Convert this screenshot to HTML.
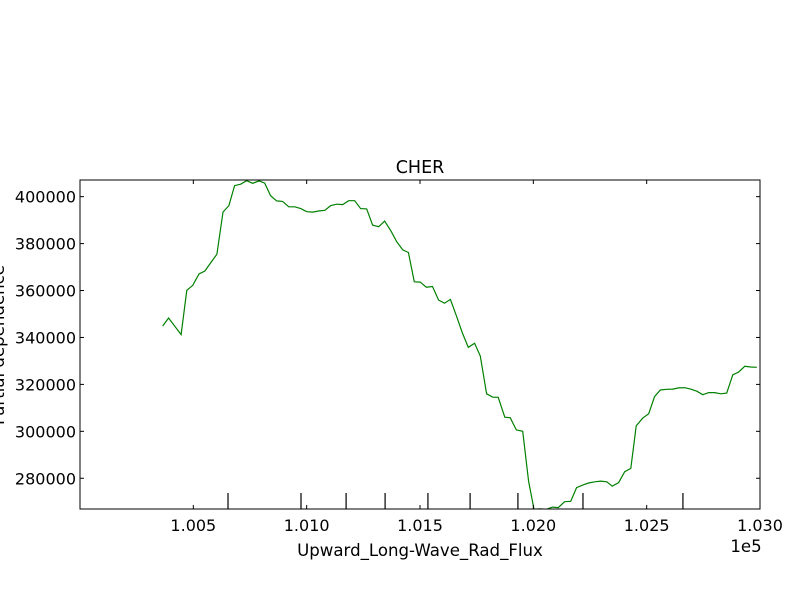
<!DOCTYPE html>
<html><head><meta charset="utf-8"><style>
html,body{margin:0;padding:0;background:#fff;}
svg{display:block;font-family:"DejaVu Sans","Liberation Sans",sans-serif;}
</style></head><body>
<svg id="chart" width="800" height="600">
<rect width="800" height="600" fill="#fff"/>
<text x="420" y="173" font-size="17.5" text-anchor="middle">CHER</text>
<g id="marks"></g>
<g id="axes"></g>
<text x="420" y="556" font-size="16.6" text-anchor="middle">Upward_Long-Wave_Rad_Flux</text>
<text x="746" y="552" font-size="16.6" text-anchor="middle">1e5</text>
<text transform="translate(4,345) rotate(-90)" font-size="16.6" text-anchor="middle">Partial dependence</text>
</svg>
<script>
const xVals=[100365,100391,100446,100471,100497,100525,100551,100578,100604,100631,100657,100682,100709,100735,100762,100790,100815,100841,100868,100894,100921,100947,100974,101000,101027,101053,101080,101106,101133,101159,101185,101212,101238,101265,101291,101318,101344,101371,101397,101424,101449,101475,101501,101528,101555,101582,101608,101634,101660,101687,101713,101741,101766,101794,101821,101845,101874,101898,101925,101953,101979,102003,102029,102059,102084,102110,102138,102165,102191,102218,102244,102271,102297,102324,102348,102376,102403,102430,102454,102482,102509,102535,102560,102588,102615,102641,102668,102694,102721,102747,102774,102800,102827,102853,102880,102906,102933,102959,102986];
const yVals=[344900,348300,341200,360100,362200,367100,368300,372000,375500,393400,396200,404700,405300,406800,405700,406700,405800,400400,398200,398000,395700,395700,394900,393600,393400,393900,394200,396200,396800,396600,398300,398300,394900,394800,387900,387200,389600,385500,380800,377300,376200,363700,363600,361400,361700,355900,354600,356200,349300,341900,335800,337500,332100,316000,314600,314500,306000,305800,300600,300000,278700,266800,267000,266800,267700,267500,270000,270200,276000,277100,278000,278500,278800,278500,276600,278100,282800,284200,302300,305600,307500,314800,317600,317900,318000,318500,318600,318000,317100,315600,316500,316500,316000,316300,324100,325300,327700,327400,327300];
const xTicks=[100500,101000,101500,102000,102500,103000];
const xTickLabels=["1.005","1.010","1.015","1.020","1.025","1.030"];
const yTicks=[280000,300000,320000,340000,360000,380000,400000];
const yTickLabels=["280000","300000","320000","340000","360000","380000","400000"];
const deciles=[100653,100975,101174,101346,101535,101721,101932,102219,102660];
const X0=80,X1=760,Y0=180,Y1=509;
const xMin=100000,xMax=103000,yMin=266900,yMax=407100;
const sx=v=>X0+(v-xMin)/(xMax-xMin)*(X1-X0);
const sy=v=>Y1-(v-yMin)/(yMax-yMin)*(Y1-Y0);
const NS="http://www.w3.org/2000/svg";
const marks=document.getElementById('marks'),axes=document.getElementById('axes');
function mk(tag,attrs,parent){const e=document.createElementNS(NS,tag);for(const k in attrs)e.setAttribute(k,attrs[k]);parent.appendChild(e);return e;}
const cp=mk('clipPath',{id:'clip'},marks);mk('rect',{x:X0,y:Y0,width:X1-X0,height:Y1-Y0},cp);
const line=mk('polyline',{points:xVals.map((x,i)=>sx(x).toFixed(1)+','+sy(yVals[i]).toFixed(1)).join(' '),fill:'none',stroke:'#008000','stroke-width':1.2,'clip-path':'url(#clip)'},marks);


const frame=mk('rect',{x:X0,y:Y0,width:X1-X0,height:Y1-Y0,fill:'none',stroke:'#000','stroke-width':1},axes);


xTicks.forEach((t,i)=>{const x=sx(t);
 mk('line',{x1:x,x2:x,y1:Y1,y2:Y1-4,stroke:'#000'},axes);
 mk('line',{x1:x,x2:x,y1:Y0,y2:Y0+4,stroke:'#000'},axes);
 const tx=mk('text',{x:x,y:Y1+22,'font-size':16,'text-anchor':'middle'},axes);tx.textContent=xTickLabels[i];
 
 });
yTicks.forEach((t,i)=>{const y=sy(t);
 mk('line',{x1:X0,x2:X0+4,y1:y,y2:y,stroke:'#000'},axes);
 mk('line',{x1:X1,x2:X1-4,y1:y,y2:y,stroke:'#000'},axes);
 const tx=mk('text',{x:X0-4,y:y+6,'font-size':16,'text-anchor':'end'},axes);tx.textContent=yTickLabels[i];
 
 });
deciles.forEach(d=>{const x=sx(d);
 const l=mk('line',{x1:x,x2:x,y1:Y1,y2:Y1-16,stroke:'#000','stroke-width':1.2},axes);
 
 });
</script>
</body></html>
